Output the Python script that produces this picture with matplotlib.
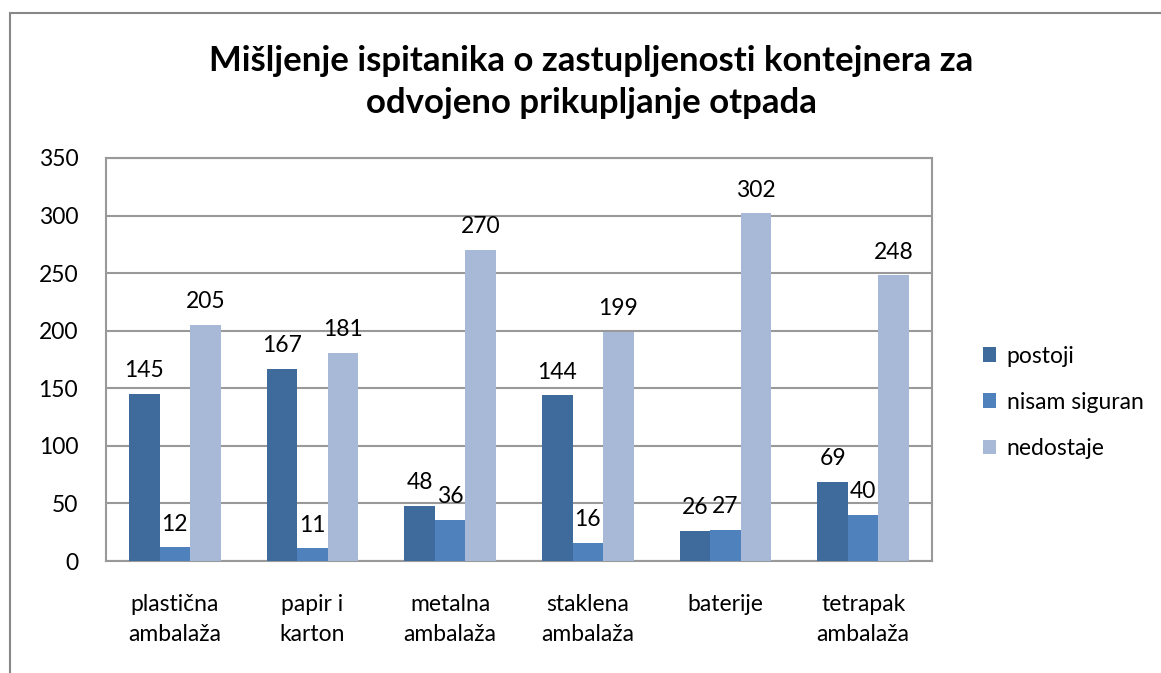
import numpy as np
import matplotlib.pyplot as plt
from matplotlib.patches import Rectangle

plt.rcParams['font.family'] = ['Lato', 'DejaVu Sans']

# podaci
kategorije = ['plastična\nambalaža', 'papir i\nkarton', 'metalna\nambalaža',
              'staklena\nambalaža', 'baterije', 'tetrapak\nambalaža']
postoji = [145, 167, 48, 144, 26, 69]
nisam_siguran = [12, 11, 36, 16, 27, 40]
nedostaje = [205, 181, 270, 199, 302, 248]

serije = [('postoji', postoji, '#3F6A9C'),
          ('nisam siguran', nisam_siguran, '#4F81BD'),
          ('nedostaje', nedostaje, '#A8B9D8')]

fig = plt.figure(figsize=(11.61, 6.73), dpi=100)
ax = fig.add_axes([106 / 1161, 1 - 561 / 673, (932 - 106) / 1161, (561 - 158) / 673])

# okvir grafikona
fig.patches.append(Rectangle((10 / 1161, -0.1), 1.2, 1 - 13 / 673 + 0.1,
                             transform=fig.transFigure, fill=False,
                             edgecolor='#888888', linewidth=1.5))

x = np.arange(len(kategorije))
sirina = 1 / 4.5
for i, (ime, vrijednosti, boja) in enumerate(serije):
    pos = x + (i - 1) * sirina
    ax.bar(pos, vrijednosti, width=sirina, color=boja, label=ime, zorder=3)
    for px, v in zip(pos, vrijednosti):
        ax.text(px, v + 11, str(v), ha='center', va='bottom', fontsize=16.5, color='black')

ax.set_xlim(-0.5, len(kategorije) - 0.5)
ax.set_ylim(0, 350)
ax.set_yticks(range(0, 351, 50))
ax.set_xticks(x)
ax.set_xticklabels(kategorije, fontsize=16.5, linespacing=1.5)
ax.tick_params(axis='y', labelsize=16.5, length=0, pad=20)
ax.tick_params(axis='x', length=0, pad=24)
for lab in ax.get_yticklabels():
    lab.set_horizontalalignment('right')
ax.grid(axis='y', color='#999999', linewidth=1.5, zorder=0)
for s in ax.spines.values():
    s.set_color('#999999')
    s.set_linewidth(1.5)

fig.text(591 / 1161, 1 - 82 / 673,
         'Mišljenje ispitanika o zastupljenosti kontejnera za\nodvojeno prikupljanje otpada',
         ha='center', va='center', fontsize=25, fontweight='bold', linespacing=1.4)

ax.legend(loc='upper left', bbox_to_anchor=(962 / 1161, 1 - 325 / 673),
          bbox_transform=fig.transFigure, frameon=False, fontsize=16.5,
          handlelength=0.6, handleheight=0.6, handletextpad=0.45, labelspacing=1.1)

fig.savefig('out.png', dpi=100)
